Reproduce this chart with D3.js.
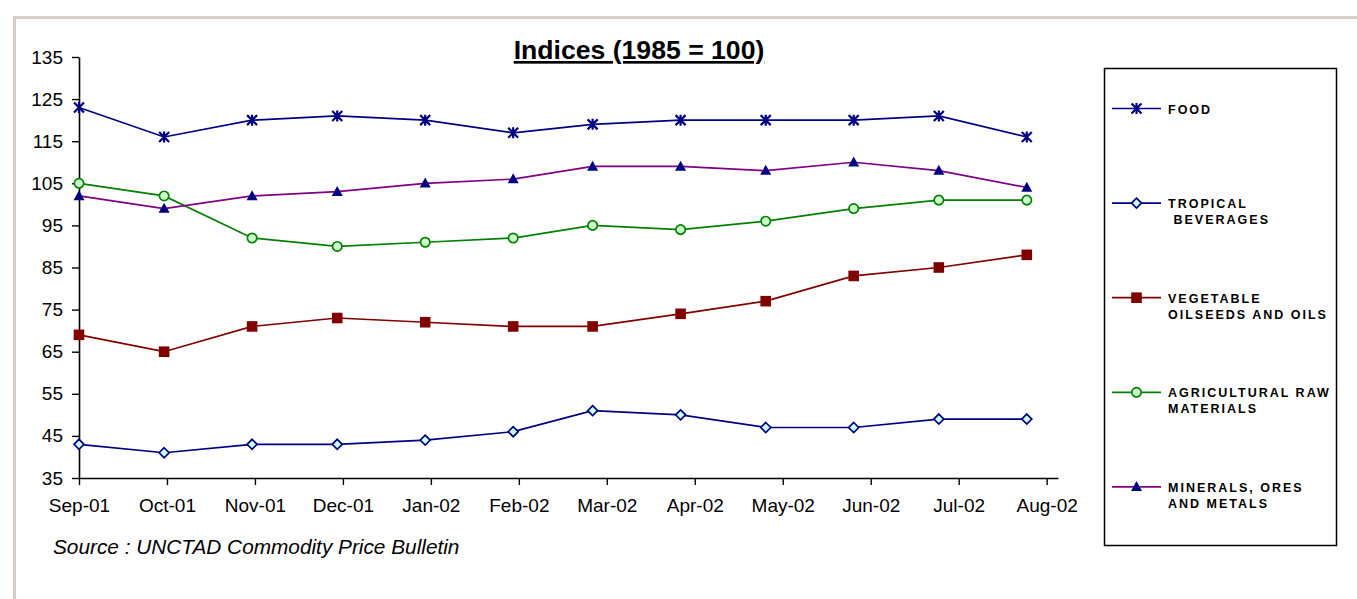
<!DOCTYPE html>
<html>
<head>
<meta charset="utf-8">
<script src="https://cdn.jsdelivr.net/npm/d3@7"></script>
<style>
  body { margin: 0; background: #fff; }
  svg { display: block; font-family: "Liberation Sans", Arial, sans-serif; }
</style>
</head>
<body>
<div id="chart"></div>
<script>
"use strict"

// monthly observation dates (date axis)
const months = ["2001-09-01", "2001-10-01", "2001-11-01", "2001-12-01", "2002-01-01", "2002-02-01",
                "2002-03-01", "2002-04-01", "2002-05-01", "2002-06-01", "2002-07-01", "2002-08-01"];
// excel date axis: major unit of 31 days
const tickDates = ["2001-09-01", "2001-10-02", "2001-11-02", "2001-12-03", "2002-01-03", "2002-02-03",
                   "2002-03-06", "2002-04-06", "2002-05-07", "2002-06-07", "2002-07-08", "2002-08-08"];
const tickLabels = ["Sep-01", "Oct-01", "Nov-01", "Dec-01", "Jan-02", "Feb-02",
                    "Mar-02", "Apr-02", "May-02", "Jun-02", "Jul-02", "Aug-02"];
const axisEnd = "2002-08-12";
const yTicks = [35, 45, 55, 65, 75, 85, 95, 105, 115, 125, 135];

const food = [123, 116, 120, 121, 120, 117, 119, 120, 120, 120, 121, 116];
const tropical = [43, 41, 43, 43, 44, 46, 51, 50, 47, 47, 49, 49];
const vegetable = [69, 65, 71, 73, 72, 71, 71, 74, 77, 83, 85, 88];
const agricultural = [105, 102, 92, 90, 91, 92, 95, 94, 96, 99, 101, 101];
const minerals = [102, 99, 102, 103, 105, 106, 109, 109, 108, 110, 108, 104];

const legendLabels = [["FOOD"], ["TROPICAL", " BEVERAGES"], ["VEGETABLE", "OILSEEDS AND OILS"],
                      ["AGRICULTURAL RAW", "MATERIALS"], ["MINERALS, ORES", "AND METALS"]];

const W = 1357, H = 599;
const parse = d3.utcParse("%Y-%m-%d");

const svg = d3.select("#chart").append("svg")
    .attr("width", W)
    .attr("height", H);

// outer frame (only top and left visible)
svg.append("path")
    .attr("d", "M14.5," + H + " L14.5,17.5 L" + W + ",17.5")
    .style("fill", "none")
    .style("stroke", "#d4d0c8")
    .style("stroke-width", 3);

let x = d3.scaleUtc()
    .domain([parse(months[0]), parse(axisEnd)])
    .range([79, 1058]);

let y = d3.scaleLinear()
    .domain([35, 135])
    .range([478, 57]);

// title
svg.append("text")
    .attr("x", 639)
    .attr("y", 59)
    .style("font-size", "26.6px")
    .style("font-weight", "bold")
    .style("text-anchor", "middle")
    .style("text-decoration", "underline")
    .text("Indices (1985 = 100)");

// axes
let yAxis = svg.append("g")
    .attr("transform", "translate(" + x.range()[0] + ",0)")
    .call(d3.axisLeft(y).tickValues(yTicks).tickSize(7).tickPadding(9).tickSizeOuter(0));

let xAxis = svg.append("g")
    .attr("transform", "translate(0," + y(35) + ")")
    .call(d3.axisBottom(x)
        .tickValues(tickDates.map(parse))
        .tickFormat((d, i) => tickLabels[i])
        .tickSize(7).tickPadding(14).tickSizeOuter(0));

for (let g of [xAxis, yAxis]) {
    g.select(".domain").style("stroke", "#000").style("stroke-width", 1.6);
    g.selectAll(".tick line").style("stroke", "#000").style("stroke-width", 1.4);
    g.selectAll(".tick text")
        .style("font-size", "19px")
        .style("font-family", "'Liberation Sans', Arial, sans-serif")
        .style("fill", "#000");
}

// marker shapes
const markers = {
    star: "M-5,-5L5,5M-5,5L5,-5M0,-5.5L0,5.5",
    diamond: "M0,-5L5,0L0,5L-5,0Z",
    square: "M-5.3,-5.3H5.3V5.3H-5.3Z",
    circle: d3.symbol(d3.symbolCircle, Math.PI * 4.7 * 4.7)(),
    triangle: "M0,-5.8L5.5,4.2L-5.5,4.2Z"
};

const series = [
    {values: food, line: "#000080", marker: "star", fill: "none", stroke: "#000080", mw: 2.2},
    {values: tropical, line: "#000080", marker: "diamond", fill: "#ccffff", stroke: "#000080", mw: 1.7},
    {values: vegetable, line: "#800000", marker: "square", fill: "#800000", stroke: "none", mw: 0},
    {values: agricultural, line: "#008000", marker: "circle", fill: "#ccffcc", stroke: "#008000", mw: 1.7},
    {values: minerals, line: "#800080", marker: "triangle", fill: "#000080", stroke: "none", mw: 0}
];

let line = d3.line()
    .x((d, i) => x(parse(months[i])))
    .y(d => y(d));

function drawMarker(g, s, px, py) {
    g.append("path")
        .attr("d", markers[s.marker])
        .attr("transform", "translate(" + px + "," + py + ")")
        .style("fill", s.fill)
        .style("stroke", s.stroke)
        .style("stroke-width", s.mw);
}

series.forEach(s => {
    let g = svg.append("g");
    g.append("path")
        .attr("d", line(s.values))
        .style("fill", "none")
        .style("stroke", s.line)
        .style("stroke-width", 1.7);
    s.values.forEach((v, i) => drawMarker(g, s, x(parse(months[i])), y(v)));
});

// source note
svg.append("text")
    .attr("x", 53)
    .attr("y", 554)
    .style("font-size", "20.8px")
    .style("font-style", "italic")
    .text("Source : UNCTAD Commodity Price Bulletin");

// legend
let legend = svg.append("g");
legend.append("rect")
    .attr("x", 1104.5)
    .attr("y", 68.5)
    .attr("width", 232)
    .attr("height", 477)
    .style("fill", "#fff")
    .style("stroke", "#000")
    .style("stroke-width", 1.5);

series.forEach((s, k) => {
    let ly = 108.5 + k * 94.6;
    legend.append("line")
        .attr("x1", 1112)
        .attr("x2", 1161)
        .attr("y1", ly)
        .attr("y2", ly)
        .style("stroke", s.line)
        .style("stroke-width", 1.7);
    drawMarker(legend, s, 1136.5, ly);
    let t = legend.append("text")
        .attr("x", 1168)
        .attr("y", ly + 5)
        .style("font-size", "12.5px")
        .style("font-weight", "bold")
        .style("letter-spacing", "2px")
        .style("white-space", "pre");
    legendLabels[k].forEach((lbl, j) => {
        t.append("tspan")
            .attr("x", 1168)
            .attr("dy", j === 0 ? 0 : 16)
            .text(lbl);
    });
});
</script>
</body>
</html>
